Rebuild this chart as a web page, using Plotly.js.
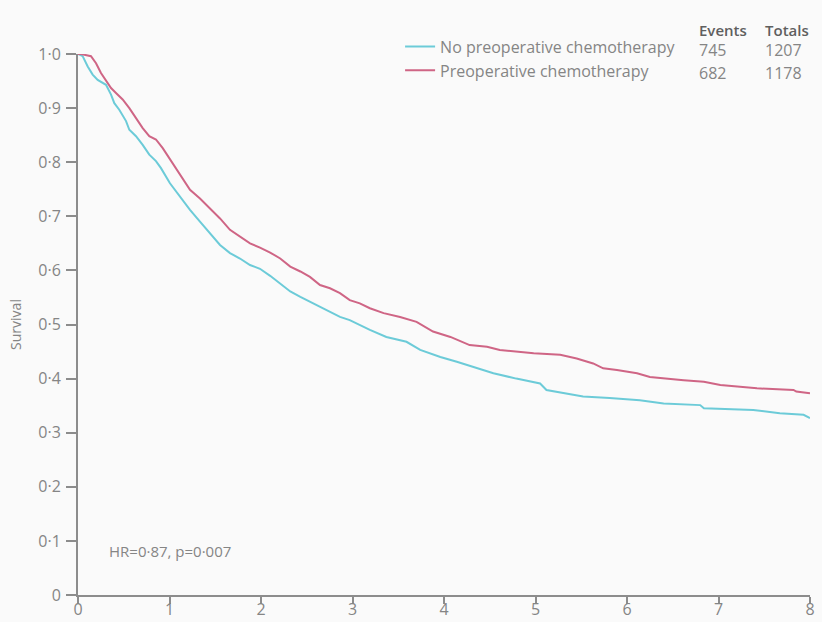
<!DOCTYPE html>
<html>
<head>
<meta charset="utf-8">
<script src="https://cdn.plot.ly/plotly-3.0.1.min.js"></script>
<style>
  html, body { margin: 0; padding: 0; background: #fafafa; }
  #chart { width: 822px; height: 622px; }
</style>
</head>
<body>
<div id="chart"></div>
<script>
// Years since randomisation and survival probability
const noChemoTime = [0, 0.051, 0.106, 0.16, 0.215, 0.306, 0.361, 0.397, 0.451, 0.525, 0.561, 0.634, 0.707, 0.779, 0.852, 0.907, 1.005, 1.115, 1.224, 1.333, 1.443, 1.552, 1.661, 1.77, 1.88, 1.989, 2.1, 2.21, 2.32, 2.43, 2.535, 2.645, 2.754, 2.863, 2.97, 3.08, 3.19, 3.37, 3.59, 3.74, 3.96, 4.14, 4.32, 4.54, 4.79, 5.05, 5.12, 5.34, 5.52, 5.81, 6.14, 6.40, 6.80, 6.84, 7.38, 7.67, 7.93, 8.0];
const noChemoSurv = [1.0, 0.996, 0.977, 0.962, 0.952, 0.943, 0.925, 0.909, 0.897, 0.876, 0.860, 0.848, 0.832, 0.814, 0.802, 0.789, 0.761, 0.736, 0.712, 0.690, 0.669, 0.647, 0.632, 0.622, 0.610, 0.603, 0.590, 0.576, 0.561, 0.551, 0.542, 0.533, 0.524, 0.514, 0.508, 0.499, 0.490, 0.477, 0.468, 0.453, 0.440, 0.431, 0.422, 0.410, 0.400, 0.391, 0.379, 0.373, 0.367, 0.364, 0.360, 0.354, 0.351, 0.345, 0.342, 0.336, 0.333, 0.327];

const chemoTime = [0, 0.033, 0.142, 0.197, 0.251, 0.306, 0.361, 0.415, 0.488, 0.561, 0.634, 0.707, 0.779, 0.852, 0.926, 1.005, 1.115, 1.224, 1.333, 1.443, 1.552, 1.661, 1.77, 1.88, 1.989, 2.1, 2.21, 2.32, 2.43, 2.535, 2.645, 2.754, 2.863, 2.97, 3.08, 3.19, 3.34, 3.52, 3.70, 3.88, 4.07, 4.28, 4.47, 4.61, 4.98, 5.27, 5.45, 5.63, 5.74, 5.89, 6.11, 6.25, 6.62, 6.84, 7.02, 7.23, 7.42, 7.82, 7.85, 8.0];
const chemoSurv = [1.0, 1.0, 0.996, 0.983, 0.965, 0.950, 0.937, 0.928, 0.916, 0.900, 0.882, 0.863, 0.848, 0.842, 0.826, 0.806, 0.779, 0.749, 0.733, 0.715, 0.696, 0.675, 0.662, 0.650, 0.642, 0.633, 0.622, 0.607, 0.598, 0.588, 0.573, 0.567, 0.558, 0.545, 0.539, 0.530, 0.521, 0.514, 0.505, 0.487, 0.477, 0.462, 0.459, 0.453, 0.447, 0.444, 0.437, 0.428, 0.419, 0.416, 0.410, 0.403, 0.397, 0.394, 0.388, 0.385, 0.382, 0.379, 0.376, 0.373];

const seriesNames = ["No preoperative chemotherapy", "Preoperative chemotherapy"];
const events = [745, 682];
const totals = [1207, 1178];

const xTickVals = [0, 1, 2, 3, 4, 5, 6, 7, 8];
const xTickText = ["0", "1", "2", "3", "4", "5", "6", "7", "8"];
const yTickVals = [0, 0.1, 0.2, 0.3, 0.4, 0.5, 0.6, 0.7, 0.8, 0.9, 1.0];
const yTickText = ["0", "0·1", "0·2", "0·3", "0·4", "0·5", "0·6", "0·7", "0·8", "0·9", "1·0"];
const statText = "HR=0·87, p=0·007";

const blue = "#6ccbd8";
const red = "#cf6585";
const grey = "#858585";
const axisGrey = "#8c8c8c";
const fontFam = "'Open Sans', 'Noto Sans', sans-serif";

const traces = [
  { x: noChemoTime, y: noChemoSurv, name: seriesNames[0], type: "scatter", mode: "lines",
    line: { color: blue, width: 2, shape: "linear" } },
  { x: chemoTime, y: chemoSurv, name: seriesNames[1], type: "scatter", mode: "lines",
    line: { color: red, width: 2, shape: "linear" } }
];

// column positions for the Events / Totals table (paper fraction of plot width)
const colEvents = (697 - 78) / 732;
const colTotals = (763 - 78) / 732;
const rowY = [(595 - 50) / 541, (595 - 73) / 541];
const headY = (595 - 30) / 541;

const annotations = [
  { xref: "paper", yref: "paper", x: colEvents, y: headY, xanchor: "left", yanchor: "middle",
    text: "Events", showarrow: false, font: { family: fontFam, size: 15, color: "#5f5f5f", weight: 600 } },
  { xref: "paper", yref: "paper", x: colTotals, y: headY, xanchor: "left", yanchor: "middle",
    text: "Totals", showarrow: false, font: { family: fontFam, size: 15, color: "#5f5f5f", weight: 600 } },
  { xref: "x", yref: "y", x: 0.32, y: 0.082, xanchor: "left", yanchor: "middle",
    text: statText, showarrow: false, font: { family: fontFam, size: 15, color: grey } }
];
for (let i = 0; i < seriesNames.length; i++) {
  annotations.push({ xref: "paper", yref: "paper", x: colEvents, y: rowY[i], xanchor: "left", yanchor: "middle",
    text: String(events[i]), showarrow: false, font: { family: fontFam, size: 16, color: grey } });
  annotations.push({ xref: "paper", yref: "paper", x: colTotals, y: rowY[i], xanchor: "left", yanchor: "middle",
    text: String(totals[i]), showarrow: false, font: { family: fontFam, size: 16, color: grey } });
}

const layout = {
  width: 822, height: 622,
  margin: { l: 78, r: 12, t: 54, b: 27 },
  paper_bgcolor: "#fafafa",
  plot_bgcolor: "#fafafa",
  showlegend: true,
  legend: { x: 0.44, y: 1.045, xanchor: "left", yanchor: "top", bgcolor: "rgba(0,0,0,0)",
    font: { family: fontFam, size: 16, color: grey }, tracegroupgap: 0, itemwidth: 30 },
  xaxis: { range: [0, 8], tickvals: xTickVals, ticktext: xTickText, showgrid: false, zeroline: false,
    showline: true, linecolor: axisGrey, linewidth: 2, ticks: "outside", ticklen: 7, tickcolor: axisGrey, tickwidth: 2,
    ticklabelstandoff: -8,
    tickfont: { family: fontFam, size: 16, color: grey }, fixedrange: true },
  yaxis: { range: [0, 1], tickvals: yTickVals, ticktext: yTickText, showgrid: false, zeroline: false,
    showline: true, linecolor: axisGrey, linewidth: 2, ticks: "outside", ticklen: 10, tickcolor: axisGrey, tickwidth: 2,
    ticklabelstandoff: 2,
    tickfont: { family: fontFam, size: 16, color: grey }, fixedrange: true,
    title: { text: "Survival", font: { family: fontFam, size: 14, color: grey }, standoff: 13 } },
  annotations: annotations
};

Plotly.newPlot("chart", traces, layout, { displayModeBar: false, staticPlot: true });
</script>
</body>
</html>
